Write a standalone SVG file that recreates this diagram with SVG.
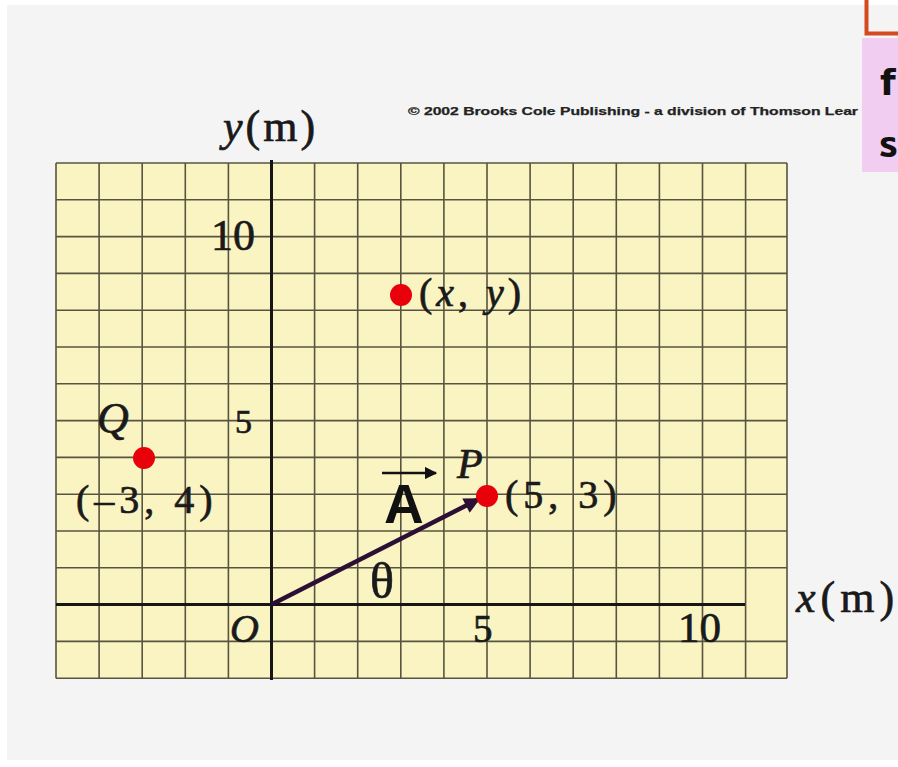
<svg xmlns="http://www.w3.org/2000/svg" width="898" height="767" viewBox="0 0 898 767">
<defs>
<style>
.grid{stroke:#57553f;stroke-width:1.6;fill:none}
.axis{stroke:#161616;stroke-width:3;fill:none}
.serif{font-family:"Liberation Serif","Times New Roman",serif;fill:#1a1a1a;stroke:#1a1a1a;stroke-width:0.7}
.it{font-style:italic}
.dot{fill:#e8000b}
.vec{stroke:#2b0f35;stroke-width:4.5;fill:none}
</style>
<marker id="head" viewBox="0 0 10 10" refX="9" refY="5" markerWidth="4" markerHeight="3.6" orient="auto" markerUnits="strokeWidth">
<path d="M0,0 L10,5 L0,10 Z" fill="#2b0f35"/>
</marker>
<marker id="small" viewBox="0 0 10 10" refX="9" refY="5" markerWidth="5" markerHeight="5" orient="auto" markerUnits="strokeWidth">
<path d="M0,0 L10,5 L0,10 Z" fill="#111"/>
</marker>
</defs>
<rect x="0" y="0" width="898" height="767" fill="#ffffff"/>
<rect x="7" y="5" width="891" height="755" fill="#f4f4f4"/>

<g id="grid">
<rect x="56" y="163" width="731" height="515.2" fill="#faf3c2"/>
<path class="grid" d="M56,163V678.2 M99.1,163V678.2 M142.2,163V678.2 M185.3,163V678.2 M228.4,163V678.2 M314.6,163V678.2 M357.7,163V678.2 M400.8,163V678.2 M443.9,163V678.2 M487,163V678.2 M530.1,163V678.2 M573.2,163V678.2 M616.3,163V678.2 M659.4,163V678.2 M702.5,163V678.2 M745.6,163V678.2 M787,163V678.2
M56,163H787 M56,199.8H787 M56,236.6H787 M56,273.4H787 M56,310.2H787 M56,347H787 M56,383.8H787 M56,420.6H787 M56,457.4H787 M56,494.2H787 M56,531H787 M56,567.8H787 M56,641.4H787 M56,678.2H787"/>
</g>

<g id="axes">
<path class="axis" d="M271.5,160V680"/>
<path class="axis" d="M56,604.6H745"/>
</g>

<g id="axis-labels">
<text class="serif" x="223" y="141" font-size="44" letter-spacing="3"><tspan class="it">y</tspan>(m)</text>
<text class="serif" x="796" y="612" font-size="44" letter-spacing="5"><tspan class="it">x</tspan>(m)</text>
<text class="serif" x="211" y="250" font-size="44">10</text>
<text class="serif" x="235" y="433" font-size="34">5</text>
<text class="serif" x="473" y="642" font-size="39">5</text>
<text class="serif" x="678" y="642" font-size="43">10</text>
<text class="serif it" x="230" y="642" font-size="40">O</text>
</g>

<g id="connectors">
<line class="vec" x1="271.5" y1="604.6" x2="479" y2="499" marker-end="url(#head)"/>
</g>

<g id="point-xy">
<circle class="dot" cx="401" cy="295" r="11"/>
<text class="serif" x="419" y="306" font-size="40" letter-spacing="4">(<tspan class="it">x</tspan>, <tspan class="it">y</tspan>)</text>
</g>

<g id="point-Q">
<circle class="dot" cx="144" cy="458" r="11"/>
<text class="serif it" x="97" y="433" font-size="44">Q</text>
<text class="serif" x="76" y="513" font-size="40" letter-spacing="5">(–3, 4)</text>
</g>

<g id="point-P">
<circle class="dot" cx="487" cy="496" r="11"/>
<text class="serif it" x="457" y="478" font-size="42">P</text>
<text class="serif" x="505" y="508" font-size="40" letter-spacing="5">(5, 3)</text>
</g>

<g id="vector-label">
<line x1="382" y1="473" x2="436" y2="473" stroke="#111" stroke-width="2.5" marker-end="url(#small)"/>
<text x="384" y="523" font-family="Liberation Sans, Arial, sans-serif" font-weight="bold" font-size="55" fill="#111">A</text>
<text class="serif" x="370" y="598" font-size="50" stroke-width="0.3">θ</text>
</g>

<g id="credit">
<text x="408" y="115" font-family="Liberation Sans, Arial, sans-serif" font-weight="bold" font-size="10.5" fill="#222" stroke="#222" stroke-width="0.25" textLength="450" lengthAdjust="spacingAndGlyphs">© 2002 Brooks Cole Publishing - a division of Thomson Lear</text>
</g>

<g id="corner">
<rect x="862" y="38" width="40" height="134" fill="#f1cdf2"/>
<text x="880" y="95" font-family="DejaVu Sans, sans-serif" font-weight="bold" font-size="36" fill="#111">f</text>
<text x="879" y="157" font-family="Noto Sans Thai, DejaVu Sans, sans-serif" font-weight="bold" font-size="36" fill="#111">ร</text>
<rect x="866.5" y="-5" width="40" height="38.5" fill="none" stroke="#d4491e" stroke-width="4"/>
</g>
</svg>
